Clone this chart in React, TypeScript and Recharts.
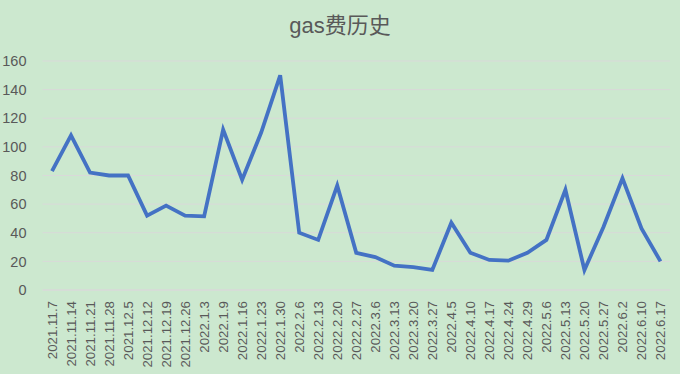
import React from 'react';
import { LineChart, Line, XAxis, YAxis, CartesianGrid } from 'recharts';

const dates = [
  '2021.11.7', '2021.11.14', '2021.11.21', '2021.11.28', '2021.12.5', '2021.12.12',
  '2021.12.19', '2021.12.26', '2022.1.3', '2022.1.9', '2022.1.16', '2022.1.23',
  '2022.1.30', '2022.2.6', '2022.2.13', '2022.2.20', '2022.2.27', '2022.3.6',
  '2022.3.13', '2022.3.20', '2022.3.27', '2022.4.5', '2022.4.10', '2022.4.17',
  '2022.4.24', '2022.4.29', '2022.5.6', '2022.5.13', '2022.5.20', '2022.5.27',
  '2022.6.2', '2022.6.10', '2022.6.17',
];

const gasFee = [
  83, 108, 82, 80, 80, 52, 59, 52, 51.5, 112, 77, 110,
  150, 40, 35, 73, 26, 23, 17, 16, 14, 47, 26, 21,
  20.5, 26, 35, 70, 14, 44, 78, 43, 20,
];

const yTicks = [0, 20, 40, 60, 80, 100, 120, 140, 160];

const FONT = '"Liberation Sans", Arial, "Noto Sans CJK SC", sans-serif';
const TEXT = '#595959';

const DateTick = (props: any) => {
  const { x, y, payload } = props;
  return (
    <text
      x={0}
      y={0}
      dy="0.35em"
      textAnchor="end"
      fill={TEXT}
      fontSize={13.3}
      fontFamily={FONT}
      transform={`translate(${x},${y}) rotate(-90)`}
    >
      {payload.value}
    </text>
  );
};

export default function App() {
  const data = dates.map((d, i) => ({ date: d, fee: gasFee[i] }));

  return (
    <div style={{ position: 'absolute', left: 0, top: 0, width: 680, height: 374, background: '#cce8cf' }}>
      <div
        style={{
          position: 'absolute', top: 10, left: 0, width: 680, textAlign: 'center',
          fontSize: 22, color: TEXT, fontFamily: FONT, lineHeight: '32px',
        }}
      >
        gas费历史
      </div>
      <LineChart width={680} height={374} data={data} margin={{ top: 61, right: 10, bottom: 4, left: 0 }}>
        <CartesianGrid vertical={false} stroke="#d9d9d9" strokeWidth={1} />
        <XAxis
          dataKey="date"
          interval={0}
          padding={{ left: 9.5, right: 9.5 }}
          tickLine={false}
          axisLine={{ stroke: '#d9d9d9' }}
          tick={<DateTick />}
          tickMargin={5}
          height={80}
        />
        <YAxis
          domain={[0, 160]}
          ticks={yTicks}
          tickLine={false}
          axisLine={false}
          width={42.5}
          tickMargin={10}
          tick={{ fill: TEXT, fontSize: 14.5, fontFamily: FONT }}
        />
        <Line
          type="linear"
          dataKey="fee"
          stroke="#4472c4"
          strokeWidth={3.8}
          dot={false}
          isAnimationActive={false}
        />
      </LineChart>
    </div>
  );
}
